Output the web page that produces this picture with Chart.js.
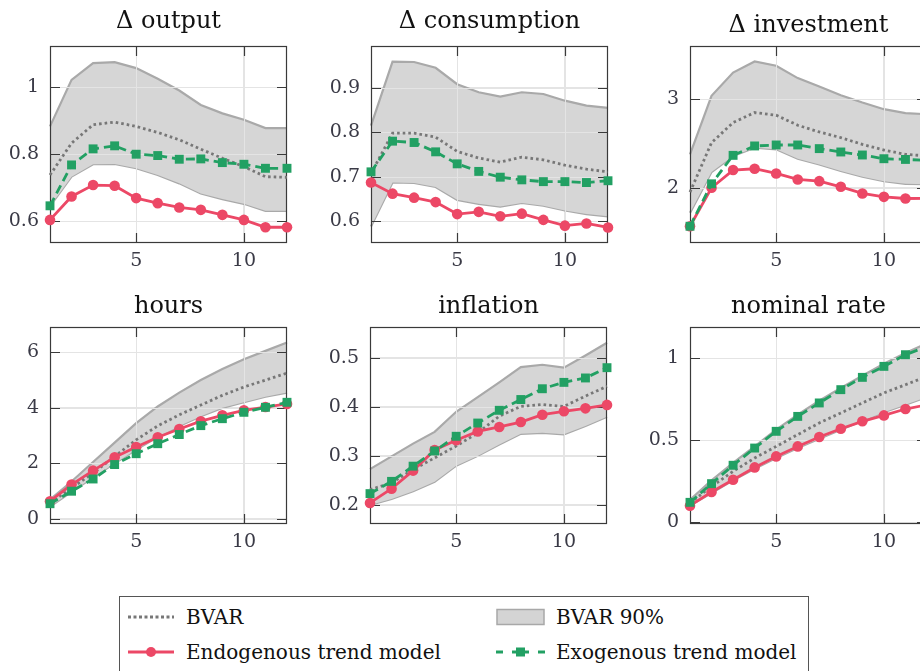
<!DOCTYPE html>
<html>
<head>
<meta charset="utf-8"/>
<title>Impulse responses: BVAR vs trend models</title>
<script src="https://cdn.jsdelivr.net/npm/chart.js"></script>
<style>
	body{margin:0;width:920px;height:671px;overflow:hidden;background:#fff;position:relative;font-family:"DejaVu Serif",serif}
	canvas{position:absolute}
	#legend{position:absolute;left:119px;top:596px;width:690px;height:110px;border:1px solid #555;box-sizing:border-box}
	#legend .item{position:absolute;height:24px;display:flex;align-items:center;font-size:20px;color:#111;white-space:nowrap}
	#legend svg{margin-right:10px}
</style>
</head>
<body>
<canvas id="p0" width="299" height="278" style="left:0px;top:0px"></canvas>
<canvas id="p1" width="299" height="278" style="left:321px;top:0px"></canvas>
<canvas id="p2" width="299" height="278" style="left:640px;top:0px"></canvas>
<canvas id="p3" width="299" height="278" style="left:0px;top:281px"></canvas>
<canvas id="p4" width="299" height="278" style="left:320px;top:281px"></canvas>
<canvas id="p5" width="299" height="278" style="left:640px;top:281px"></canvas>

<div id="legend">
	<div class="item" style="left:8px;top:8px">
		<svg width="48" height="20"><line x1="0" y1="10" x2="46" y2="10" stroke="#777" stroke-width="3" stroke-dasharray="3 2.5"/></svg>BVAR
	</div>
	<div class="item" style="left:376px;top:8px">
		<svg width="50" height="20"><rect x="1" y="2.5" width="47" height="15" fill="#d4d4d4" stroke="#a8a8a8" stroke-width="1.5"/></svg>BVAR 90%
	</div>
	<div class="item" style="left:8px;top:43px">
		<svg width="48" height="20"><line x1="0" y1="10" x2="46" y2="10" stroke="#ec4866" stroke-width="3"/><circle cx="23" cy="10" r="5" fill="#ec4866"/></svg>Endogenous trend model
	</div>
	<div class="item" style="left:376px;top:43px">
		<svg width="50" height="20"><g stroke="#22a063" stroke-width="3"><line x1="0" y1="10" x2="7" y2="10"/><line x1="16" y1="10" x2="33" y2="10"/><line x1="42" y1="10" x2="49" y2="10"/></g><rect x="20" y="5.5" width="9" height="9" fill="#22a063"/></svg>Exogenous trend model
	</div>
</div>

<script>
const horizons = [1, 2, 3, 4, 5, 6, 7, 8, 9, 10, 11, 12];
const xTicks = [5, 10];

const outputTicks = [0.6, 0.8, 1];
const outputBvar = [0.738, 0.833, 0.888, 0.896, 0.883, 0.865, 0.843, 0.815, 0.788, 0.763, 0.733, 0.731];
const outputHi = [0.883, 1.022, 1.072, 1.075, 1.057, 1.025, 0.990, 0.947, 0.922, 0.903, 0.878, 0.878];
const outputLo = [0.645, 0.733, 0.770, 0.771, 0.758, 0.738, 0.713, 0.683, 0.666, 0.652, 0.631, 0.631];
const outputEndo = [0.604, 0.674, 0.708, 0.706, 0.669, 0.654, 0.641, 0.634, 0.619, 0.604, 0.582, 0.582];
const outputExo = [0.646, 0.768, 0.816, 0.825, 0.800, 0.796, 0.785, 0.786, 0.775, 0.770, 0.758, 0.758];

const consTicks = [0.6, 0.7, 0.8, 0.9];
const consBvar = [0.707, 0.798, 0.798, 0.789, 0.757, 0.742, 0.733, 0.744, 0.738, 0.726, 0.717, 0.711];
const consHi = [0.815, 0.959, 0.958, 0.945, 0.908, 0.890, 0.880, 0.890, 0.886, 0.871, 0.860, 0.855];
const consLo = [0.588, 0.687, 0.686, 0.677, 0.648, 0.639, 0.633, 0.641, 0.635, 0.624, 0.616, 0.611];
const consEndo = [0.687, 0.662, 0.653, 0.643, 0.616, 0.621, 0.611, 0.617, 0.603, 0.590, 0.595, 0.586];
const consExo = [0.711, 0.780, 0.777, 0.756, 0.729, 0.712, 0.699, 0.693, 0.689, 0.689, 0.687, 0.691];

const invTicks = [2, 3];
const invBvar = [1.951, 2.509, 2.736, 2.849, 2.819, 2.706, 2.630, 2.566, 2.490, 2.426, 2.377, 2.360];
const invHi = [2.377, 3.038, 3.300, 3.426, 3.377, 3.238, 3.143, 3.045, 2.962, 2.887, 2.842, 2.830];
const invLo = [1.717, 2.177, 2.358, 2.453, 2.434, 2.328, 2.264, 2.189, 2.125, 2.075, 2.045, 2.040];
const invEndo = [1.566, 2.000, 2.200, 2.215, 2.162, 2.094, 2.075, 2.011, 1.936, 1.898, 1.879, 1.880];
const invExo = [1.566, 2.045, 2.366, 2.472, 2.483, 2.483, 2.442, 2.404, 2.370, 2.328, 2.320, 2.310];

const hoursTicks = [0, 2, 4, 6];
const hoursBvar = [0.58, 1.12, 1.65, 2.25, 2.85, 3.35, 3.75, 4.10, 4.45, 4.75, 5.00, 5.25];
const hoursHi = [0.70, 1.35, 2.05, 2.75, 3.45, 4.05, 4.55, 5.00, 5.40, 5.75, 6.05, 6.35];
const hoursLo = [0.45, 0.98, 1.50, 2.00, 2.50, 2.95, 3.35, 3.70, 4.00, 4.20, 4.40, 4.55];
const hoursEndo = [0.64, 1.24, 1.74, 2.22, 2.59, 2.94, 3.24, 3.52, 3.73, 3.91, 4.03, 4.14];
const hoursExo = [0.55, 1.00, 1.44, 1.96, 2.35, 2.71, 3.04, 3.36, 3.61, 3.84, 4.02, 4.20];

const inflTicks = [0.2, 0.3, 0.4, 0.5];
const inflBvar = [0.231, 0.245, 0.272, 0.296, 0.320, 0.347, 0.381, 0.401, 0.405, 0.401, 0.422, 0.442];
const inflHi = [0.273, 0.299, 0.325, 0.349, 0.390, 0.420, 0.450, 0.481, 0.486, 0.480, 0.505, 0.531];
const inflLo = [0.200, 0.212, 0.228, 0.247, 0.280, 0.300, 0.323, 0.345, 0.347, 0.344, 0.361, 0.380];
const inflEndo = [0.204, 0.233, 0.270, 0.312, 0.332, 0.350, 0.359, 0.369, 0.384, 0.391, 0.397, 0.404];
const inflExo = [0.223, 0.248, 0.279, 0.310, 0.340, 0.367, 0.393, 0.415, 0.437, 0.450, 0.459, 0.480];

const rateTicks = [0, 0.5, 1];
const rateBvar = [0.116, 0.217, 0.309, 0.390, 0.461, 0.533, 0.604, 0.665, 0.726, 0.787, 0.837, 0.888];
const rateHi = [0.136, 0.254, 0.360, 0.461, 0.563, 0.654, 0.740, 0.817, 0.892, 0.965, 1.030, 1.090];
const rateLo = [0.100, 0.177, 0.254, 0.325, 0.390, 0.451, 0.508, 0.563, 0.618, 0.669, 0.715, 0.762];
const rateEndo = [0.100, 0.183, 0.258, 0.333, 0.400, 0.461, 0.518, 0.569, 0.614, 0.650, 0.689, 0.715];
const rateExo = [0.120, 0.234, 0.346, 0.451, 0.553, 0.644, 0.726, 0.807, 0.882, 0.949, 1.020, 1.070];

// panel setup: title, y range, and whether the title has a descender (pgfplots anchors the box bottom)
const panels = [
	{title: "\u0394 output", ticks: outputTicks, min: 0.535, max: 1.123, desc: true, s: [outputBvar, outputHi, outputLo, outputEndo, outputExo]},
	{title: "\u0394 consumption", ticks: consTicks, min: 0.551, max: 0.994, desc: true, s: [consBvar, consHi, consLo, consEndo, consExo]},
	{title: "\u0394 investment", ticks: invTicks, min: 1.377, max: 3.60, desc: false, s: [invBvar, invHi, invLo, invEndo, invExo]},
	{title: "hours", ticks: hoursTicks, min: -0.18, max: 6.91, desc: false, s: [hoursBvar, hoursHi, hoursLo, hoursEndo, hoursExo]},
	{title: "inflation", ticks: inflTicks, min: 0.161, max: 0.563, desc: false, s: [inflBvar, inflHi, inflLo, inflEndo, inflExo]},
	{title: "nominal rate", ticks: rateTicks, min: -0.012, max: 1.189, desc: false, s: [rateBvar, rateHi, rateLo, rateEndo, rateExo]}
];

const RED = "#ec4866", GREEN = "#22a063", GRID = "#e4e4e4";

const pts = arr => horizons.map((h, i) => ({x: h, y: arr[i]}));

// once the band (dataset 3) is painted: grid on top of it, then the box with inward ticks
const frame = {
	id: "frame",
	afterDatasetDraw(chart, args) {
		if (args.index !== 3) return;
		const {ctx, chartArea: a, scales: {x, y}} = chart;
		const xs = x.ticks.map(t => Math.round(x.getPixelForValue(t.value)) + 0.5);
		const ys = y.ticks.map(t => Math.round(y.getPixelForValue(t.value)) + 0.5);
		ctx.save();
		ctx.strokeStyle = GRID;
		ctx.lineWidth = 1;
		ctx.beginPath();
		xs.forEach(px => { ctx.moveTo(px, a.top); ctx.lineTo(px, a.bottom); });
		ys.forEach(py => { ctx.moveTo(a.left, py); ctx.lineTo(a.right, py); });
		ctx.stroke();
		ctx.strokeStyle = "#3a3a3a";
		ctx.lineWidth = 1.2;
		ctx.beginPath();
		xs.forEach(px => {
			ctx.moveTo(px, a.top); ctx.lineTo(px, a.top + 10);
			ctx.moveTo(px, a.bottom); ctx.lineTo(px, a.bottom - 10);
		});
		ys.forEach(py => {
			ctx.moveTo(a.left, py); ctx.lineTo(a.left + 10, py);
			ctx.moveTo(a.right, py); ctx.lineTo(a.right - 10, py);
		});
		ctx.stroke();
		ctx.strokeRect(a.left + 0.5, a.top + 0.5, a.width - 1, a.height - 1);
		ctx.restore();
	}
};

Chart.defaults.font.family = "'DejaVu Serif', serif";

panels.forEach(function(p, k) {
	const [bvar, hi, lo, endo, exo] = p.s;
	new Chart(document.getElementById("p" + k), {
		type: "line",
		data: {
			datasets: [
				{data: pts(exo), borderColor: GREEN, backgroundColor: GREEN, borderWidth: 2.8, borderDash: [9, 5],
				 pointStyle: "rect", pointRadius: 6.3, pointBorderWidth: 0, fill: false, clip: false},
				{data: pts(endo), borderColor: RED, backgroundColor: RED, borderWidth: 2.8,
				 pointStyle: "circle", pointRadius: 5.3, pointBorderWidth: 0, fill: false, clip: false},
				{data: pts(bvar), borderColor: "#777", borderWidth: 2.8, borderDash: [2.6, 3],
				 pointRadius: 0, fill: false, clip: false},
				{data: pts(hi), borderColor: "#a9a9a9", borderWidth: 2.2, backgroundColor: "#d6d6d6",
				 pointRadius: 0, fill: "+1", clip: false},
				{data: pts(lo), borderColor: "#a9a9a9", borderWidth: 2.2, pointRadius: 0, fill: false, clip: false}
			]
		},
		options: {
			responsive: false,
			animation: false,
			devicePixelRatio: 1,
			layout: {padding: {left: 0, right: 12, top: 0, bottom: 0}},
			plugins: {
				legend: {display: false},
				tooltip: {enabled: false},
				title: {
					display: true, text: p.title, fullSize: false, color: "#111",
					font: {size: 24, weight: "normal", lineHeight: 1.2},
					padding: p.desc ? {top: 7.6, bottom: 9.6} : {top: 11.8, bottom: 5.4}
				}
			},
			scales: {
				x: {
					type: "linear", min: 1, max: 12,
					afterBuildTicks: s => { s.ticks = xTicks.map(v => ({value: v})); },
					afterFit: s => { s.height = 35; },
					grid: {color: GRID, lineWidth: 1, drawTicks: false},
					border: {display: false},
					ticks: {padding: 7, color: "#3a3a46", font: {size: 19}, maxRotation: 0, callback: v => String(v)}
				},
				y: {
					type: "linear", min: p.min, max: p.max,
					afterBuildTicks: s => { s.ticks = p.ticks.map(v => ({value: v})); },
					afterFit: s => { s.width = 50; },
					grid: {color: GRID, lineWidth: 1, drawTicks: false},
					border: {display: false},
					ticks: {padding: 11, color: "#3a3a46", font: {size: 19}, callback: v => String(v)}
				}
			}
		},
		plugins: [frame]
	});
});
</script>
</body>
</html>
